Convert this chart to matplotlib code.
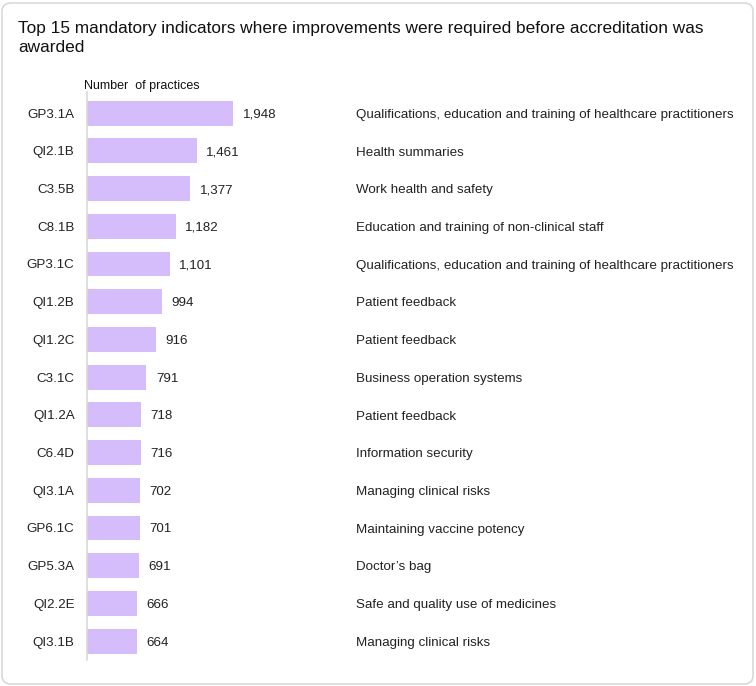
import matplotlib.pyplot as plt
from matplotlib.patches import FancyBboxPatch

plt.rcParams['font.family'] = ['Liberation Sans', 'DejaVu Sans']

# data
codes = ['GP3.1A', 'QI2.1B', 'C3.5B', 'C8.1B', 'GP3.1C', 'QI1.2B', 'QI1.2C', 'C3.1C',
         'QI1.2A', 'C6.4D', 'QI3.1A', 'GP6.1C', 'GP5.3A', 'QI2.2E', 'QI3.1B']
counts = [1948, 1461, 1377, 1182, 1101, 994, 916, 791, 718, 716, 702, 701, 691, 666, 664]
descriptions = [
    'Qualifications, education and training of healthcare practitioners',
    'Health summaries',
    'Work health and safety',
    'Education and training of non-clinical staff',
    'Qualifications, education and training of healthcare practitioners',
    'Patient feedback',
    'Patient feedback',
    'Business operation systems',
    'Patient feedback',
    'Information security',
    'Managing clinical risks',
    'Maintaining vaccine potency',
    "Doctor\u2019s bag",
    'Safe and quality use of medicines',
    'Managing clinical risks',
]

fig = plt.figure(figsize=(7.56, 6.86), dpi=100)
W, H = 756, 686

# rounded border
border = FancyBboxPatch((2 / W, 2 / H), 751 / W, 681 / H,
                        boxstyle='round,pad=0,rounding_size=0.012',
                        transform=fig.transFigure, facecolor='none',
                        edgecolor='#d9d9d9', linewidth=1.2, zorder=-1)
fig.patches.append(border)

ax = fig.add_axes([87 / W, 1 - 660 / H, 253 / W, 568 / H])
ax.set_facecolor('none')
y = list(range(len(codes)))
ax.barh(y, counts, height=0.66, color='#d4bdfa')
ax.set_xlim(0, 253 / 0.075)
ax.set_ylim(14.5, -0.56)

for s in ['top', 'right', 'bottom']:
    ax.spines[s].set_visible(False)
ax.spines['left'].set_color('#d9d9d9')
ax.spines['left'].set_linewidth(1.2)
ax.set_xticks([])
ax.set_yticks(y)
ax.set_yticklabels(codes, fontsize=9.6, color='#222222', va='center_baseline')
ax.tick_params(axis='y', length=0, pad=9)

for i, v in enumerate(counts):
    ax.text(v + 130, i, f'{v:,}', va='center_baseline', ha='left', fontsize=9.6, color='#222222')

for i, d in enumerate(descriptions):
    fig.text(356 / W, 1 - (113.5 + 37.7 * i) / H, d, va='center_baseline', ha='left',
             fontsize=9.6, color='#222222')

fig.text(18 / W, 1 - 28 / H, 'Top 15 mandatory indicators where improvements were required before accreditation was',
         fontsize=12.4, va='center', ha='left', color='#111111')
fig.text(18 / W, 1 - 47 / H, 'awarded', fontsize=12.4, va='center', ha='left', color='#111111')
fig.text(84 / W, 1 - 86 / H, 'Number  of practices', fontsize=9, va='center', ha='left', color='#111111')

fig.savefig('out.png', dpi=100)
